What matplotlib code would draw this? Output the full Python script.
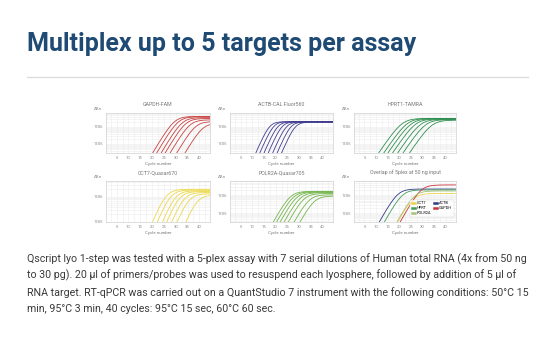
import numpy as np
import matplotlib
matplotlib.use("Agg")
import matplotlib.pyplot as plt
from matplotlib.lines import Line2D
from matplotlib.ticker import FixedLocator, MultipleLocator, NullFormatter

plt.rcParams['font.family'] = ['Roboto', 'DejaVu Sans']

W, H = 540, 341

# cycle where each dilution leaves the bottom of the plot, and its plateau (log10 dRn)
gapdh_start = [20.2, 21.9, 23.8, 25.5, 27.6, 30.4, 33.9]
gapdh_top = [6.62, 6.60, 6.55, 6.50, 6.42, 6.32, 6.22]
actb_start = [11.5, 13.2, 15.0, 16.8, 18.7, 20.6, 22.5]
actb_top = [6.31, 6.31, 6.30, 6.30, 6.29, 6.29, 6.28]
hprt1_start = [11.1, 13.3, 15.1, 17.1, 19.3, 21.6, 24.4]
hprt1_top = [6.50, 6.50, 6.48, 6.47, 6.45, 6.43, 6.40]
cct7_start = [20.2, 22.2, 24.4, 26.2, 28.3, 30.6, 34.3]
cct7_top = [6.31, 6.28, 6.25, 6.22, 6.18, 6.13, 6.08]
polr2a_start = [19.0, 20.4, 21.9, 23.6, 25.4, 27.9, 30.4]
polr2a_top = [6.22, 6.20, 6.18, 6.15, 6.10, 6.03, 5.96]

# 50 ng overlay
overlay_names = ['CCT7', 'ACTB', 'HPRT', 'GAPDH', 'POLR2A']
overlay_start = [19.3, 11.4, 13.6, 20.4, 19.0]
overlay_top = [6.10, 6.35, 6.30, 6.58, 6.24]
overlay_colors = ['#ead44a', '#2e3a82', '#3f9d5a', '#c8323a', '#a9c27a']
legend_order = ['CCT7', 'HPRT', 'POLR2A', 'ACTB', 'GAPDH']

x_ticks = [5, 10, 15, 20, 25, 30, 35, 40]


def amp_curve(c, start, top, ybot, s):
    # logistic amplification, shifted so it crosses ybot at `start`
    c0 = start + s * np.log(10 ** (top - ybot) - 1)
    return 10 ** top / (1 + np.exp(-(c - c0) / s))


def px_axes(left, top, right, bottom):
    return fig.add_axes([left / W, 1 - bottom / H, (right - left) / W, (bottom - top) / H])


def style(ax, title, ylim):
    ax.set_yscale('log')
    ax.set_xlim(0.5, 44.5)
    ax.set_ylim(10 ** ylim[0], 10 ** ylim[1])
    ax.xaxis.set_major_locator(FixedLocator(x_ticks))
    ax.xaxis.set_minor_locator(MultipleLocator(2.5))
    ax.yaxis.set_major_locator(FixedLocator([1e5, 1e6]))
    ax.yaxis.set_minor_formatter(NullFormatter())
    ax.set_yticklabels(['1E05', '1E06'])
    ax.grid(which='both', color='#ececec', lw=0.4)
    ax.set_axisbelow(True)
    ax.tick_params(which='both', length=0, labelsize=3, labelcolor='#888888', pad=2)
    for sp in ax.spines.values():
        sp.set_color('#d0d0d0')
        sp.set_linewidth(0.5)
    ax.set_title(title, fontsize=3.8, color='#777777', pad=5)
    ax.set_xlabel('Cycle number', fontsize=3.2, color='#777777', labelpad=1.5)
    ax.text(-0.08, 1.04, '\u0394Rn', transform=ax.transAxes, fontsize=3,
            color='#888888', ha='center', va='bottom', family=['DejaVu Sans'])


fig = plt.figure(figsize=(W / 100, H / 100), dpi=100)
fig.patch.set_facecolor('white')

fig.text(27 / W, 1 - 51 / H, 'Multiplex up to 5 targets per assay', fontsize=18,
         fontweight='bold', color='#1f4a73', va='baseline')
fig.add_artist(Line2D([27 / W, 528 / W], [1 - 77 / H] * 2, color='#dedede', lw=1))

cyc = np.linspace(1, 45, 400)
panels = [
    ((106, 113, 210, 153), 'GAPDH-FAM', gapdh_start, gapdh_top, '#c8413f', (4.47, 6.82), 1.9),
    ((230, 113, 333, 153), 'ACTB-CAL Fluor560', actb_start, actb_top, '#403d8f', (4.47, 6.82), 1.4),
    ((354, 113, 456, 153), 'HPRT1-TAMRA', hprt1_start, hprt1_top, '#2f8f50', (4.47, 6.82), 2.2),
    ((106, 181, 210, 222), 'CCT7-Quasar670', cct7_start, cct7_top, '#ecd84a', (5.0, 6.64), 1.9),
    ((230, 181, 333, 222), 'POLR2A-Quasar705', polr2a_start, polr2a_top, '#72b548', (4.53, 6.79), 1.9),
]
for box, title, starts, tops, color, ylim, s in panels:
    ax = px_axes(*box)
    style(ax, title, ylim)
    for st, tp in zip(starts, tops):
        ax.plot(cyc, amp_curve(cyc, st, tp, ylim[0], s), color=color, lw=0.6)

ax = px_axes(354, 181, 456, 222)
style(ax, 'Overlap of 5plex at 50 ng input', (4.5, 6.8))
lines = {}
for name, st, tp, color in zip(overlay_names, overlay_start, overlay_top, overlay_colors):
    lines[name], = ax.plot(cyc, amp_curve(cyc, st, tp, 4.5, 1.9), color=color, lw=0.6, label=name)
leg = ax.legend([lines[n] for n in legend_order], legend_order,
                loc='lower right', ncol=2, fontsize=2.8, frameon=True, handlelength=0.8,
                handletextpad=0.4, columnspacing=0.9, borderpad=0.45, labelspacing=0.25,
                bbox_to_anchor=(0.995, 0.07))
leg.get_frame().set_linewidth(0.3)
leg.get_frame().set_edgecolor('#cccccc')
for h in leg.get_lines():
    h.set_linewidth(1.8)

para = [
    'Qscript lyo 1-step was tested with a 5-plex assay with 7 serial dilutions of Human total RNA (4x from 50 ng',
    'to 30 pg). 20 \u00b5l of primers/probes was used to resuspend each lyosphere, followed by addition of 5 \u00b5l of',
    'RNA target. RT-qPCR was carried out on a QuantStudio 7 instrument with the following conditions: 50\u00b0C 15',
    'min, 95\u00b0C 3 min, 40 cycles: 95\u00b0C 15 sec, 60\u00b0C 60 sec.',
]
for i, line in enumerate(para):
    fig.text(27 / W, 1 - (259 + i * 16.6) / H, line, fontsize=7.65, color='#3a3a3a', va='center')

fig.savefig('out.png', dpi=100)
